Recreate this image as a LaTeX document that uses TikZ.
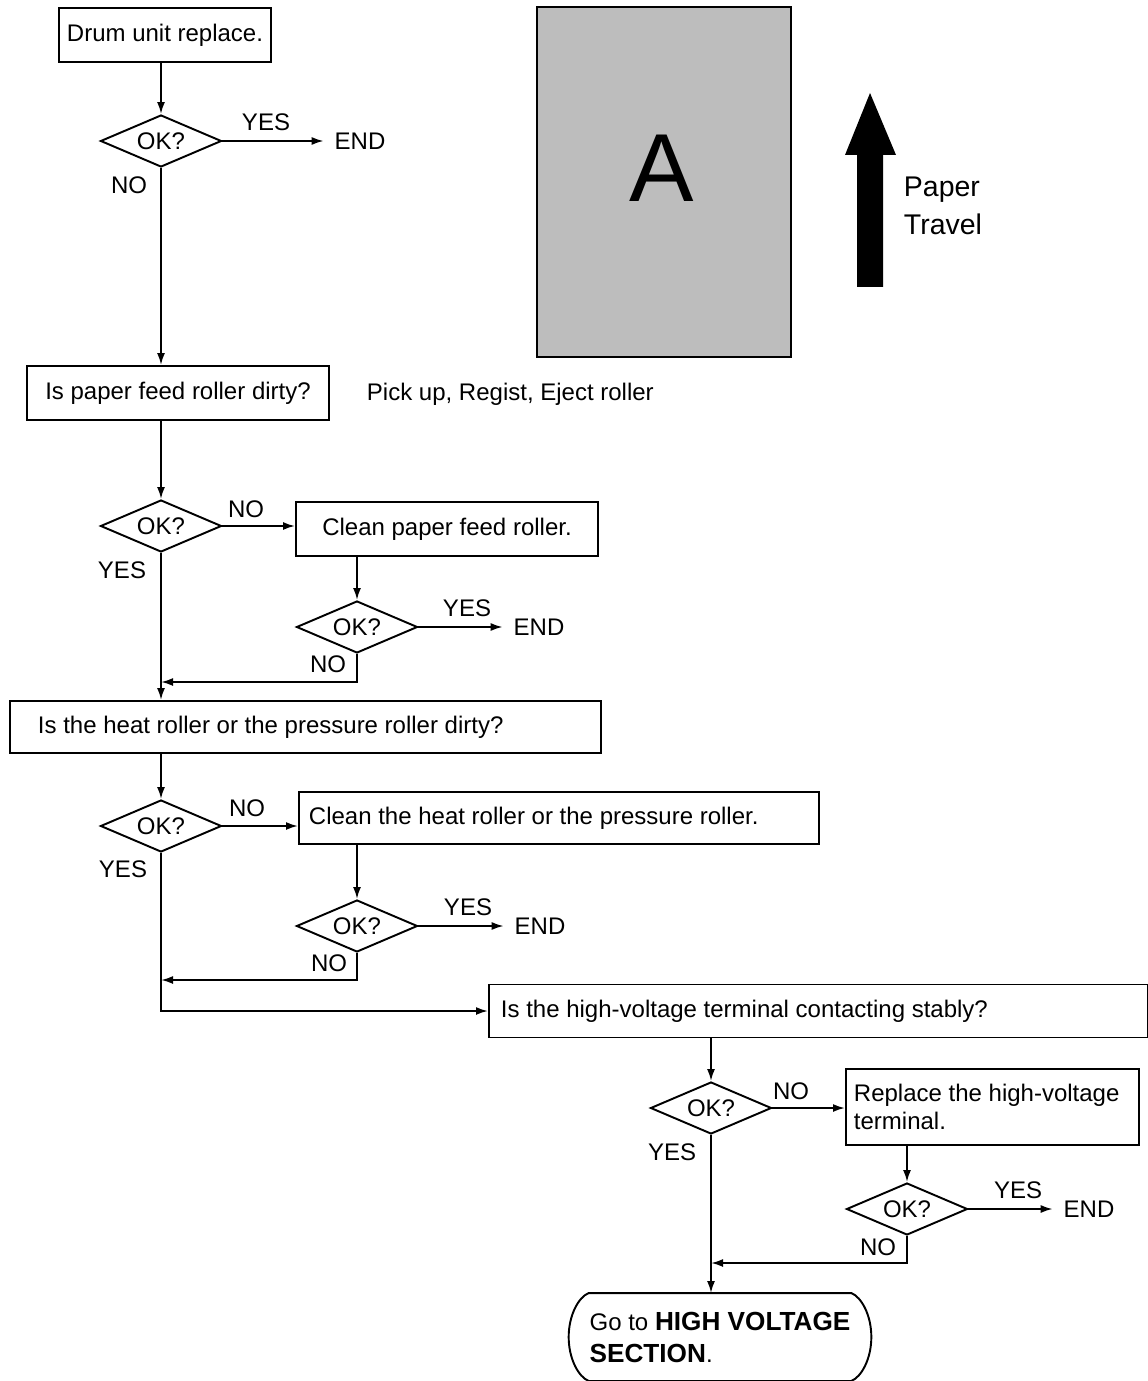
\documentclass[tikz,border=0pt]{standalone}
\usepackage{fontspec}
\setmainfont{Liberation Sans}
\usetikzlibrary{arrows.meta,shapes.geometric}

\begin{document}
\begin{tikzpicture}[x=0.02cm,y=-0.02cm,line width=1.1pt,
    every node/.style={font=\fontsize{13.66}{16}\selectfont},
    box/.style={draw,rectangle,minimum height=1.08cm,inner sep=0.16cm},
    lbox/.style={box,anchor=west,align=flush left},
    dec/.style={draw,diamond,aspect=2.3,minimum width=2.42cm,minimum height=1.04cm,inner sep=0pt},
    lbl/.style={inner sep=0pt},
    fin/.style={inner xsep=0.2cm,inner ysep=0pt},
    arr/.style={-{Latex[length=0.24cm,width=0.16cm]}}]

  \useasboundingbox (0,0) rectangle (1147,1381);

  % sheet and paper direction
  \node[draw,fill=black!26,minimum width=5.08cm,minimum height=7cm] (sheet) at (664,182) {};
  \node[inner sep=0pt,font=\fontsize{55}{60}\selectfont] (letA) at (662,168) {A};
  \fill (857,287) -- (857,155) -- (845,155) -- (870,93) -- (896,155) -- (883,155) -- (883,287) -- cycle;
  \node[anchor=west,align=flush left,inner sep=0pt,font=\fontsize{16.2}{21.6}\selectfont] (travel) at (903,206) {Paper\\Travel};

  % drum
  \node[box,minimum width=4.24cm] (b1) at (165,35) {Drum unit replace.};
  \node[dec] (d1) at (161,141) {OK?};
  \node[fin] (e1) at (360,141) {END};
  \node[lbl] (y1) at (266,122) {YES};
  \node[lbl] (n1) at (129,185) {NO};

  % paper feed roller
  \node[box,minimum width=6.04cm] (b2) at (178,393) {Is paper feed roller dirty?};
  \node[lbl,anchor=base west] (note) at (366,401) {Pick up, Regist, Eject roller};
  \node[dec] (d2) at (161,526) {OK?};
  \node[lbl] (n2) at (246,509) {NO};
  \node[lbl] (y2) at (122,570) {YES};
  \node[box,minimum width=6.04cm] (b3) at (447,529) {Clean paper feed roller.};
  \node[dec] (d3) at (357,627) {OK?};
  \node[lbl] (y3) at (467,608) {YES};
  \node[fin] (e3) at (539,627) {END};
  \node[lbl] (n3) at (328,664) {NO};
  \coordinate (j3) at (161,682);

  % heat / pressure roller
  \node[lbox,inner xsep=0.56cm,text width=10.7cm,minimum height=1.04cm] (b4) at (9,727) {Is the heat roller or the pressure roller dirty?};
  \node[dec] (d4) at (161,826) {OK?};
  \node[lbl] (n4) at (247,808) {NO};
  \node[lbl] (y4) at (123,869) {YES};
  \node[lbox,inner xsep=0.2cm,text width=10cm,minimum height=1.04cm] (b5) at (298,818) {Clean the heat roller or the pressure roller.};
  \node[dec] (d5) at (357,926) {OK?};
  \node[lbl] (y5) at (468,907) {YES};
  \node[fin] (e5) at (540,926) {END};
  \node[lbl] (n5) at (329,963) {NO};
  \coordinate (j5) at (161,980);

  % high-voltage terminal
  \node[lbox,inner xsep=0.24cm,text width=12.7cm,minimum height=1.06cm] (b6) at (488,1011) {Is the high-voltage terminal contacting stably?};
  \node[dec] (d6) at (711,1108) {OK?};
  \node[lbl] (n6) at (791,1091) {NO};
  \node[lbl] (y6) at (672,1152) {YES};
  \node[lbox,inner xsep=0.16cm,text width=5.54cm,minimum height=1.52cm,font=\fontsize{13.66}{15.9}\selectfont] (b7) at (845,1107) {Replace the high-voltage\\terminal.};
  \node[dec] (d7) at (907,1209) {OK?};
  \node[lbl] (y7) at (1018,1190) {YES};
  \node[fin] (e7) at (1089,1209) {END};
  \node[lbl] (n7) at (878,1247) {NO};
  \coordinate (j7) at (711,1263);

  \node[inner sep=0pt,minimum width=5.12cm,minimum height=1.72cm,align=flush left,font=\fontsize{13.66}{18.2}\selectfont] (stop) at (720,1337)
    {Go to {\fontsize{14.9}{18.2}\selectfont\bfseries HIGH VOLTAGE}\\{\fontsize{14.9}{18.2}\selectfont\bfseries SECTION}.};
  \draw (stop.north west) -- (stop.north east)
    .. controls +(10,4) and +(0,-22) .. ([xshift=0.4cm]stop.east)
    .. controls +(0,22) and +(10,-4) .. (stop.south east) -- (stop.south west)
    .. controls +(-10,-4) and +(0,22) .. ([xshift=-0.4cm]stop.west)
    .. controls +(0,-22) and +(-10,4) .. (stop.north west) -- cycle;

  % connectors
  \draw[arr] (d1 |- b1.south) -- (d1.north);
  \draw[arr] (d1.east) -- (e1.west);
  \draw[arr] (d1.south) -- (d1 |- b2.north);

  \draw[arr] (d2 |- b2.south) -- (d2.north);
  \draw[arr] (d2.east) -- (d2.east -| b3.west);
  \draw[arr] (d3 |- b3.south) -- (d3.north);
  \draw[arr] (d3.east) -- (e3.west);
  \draw[arr] (d3.south) |- (j3);
  \draw[arr] (d2.south) -- (d2 |- b4.north);

  \draw[arr] (d4 |- b4.south) -- (d4.north);
  \draw[arr] (d4.east) -- (d4.east -| b5.west);
  \draw[arr] (d5 |- b5.south) -- (d5.north);
  \draw[arr] (d5.east) -- (e5.west);
  \draw[arr] (d5.south) |- (j5);
  \draw[arr] (d4.south) |- (b6.west);

  \draw[arr] (d6 |- b6.south) -- (d6.north);
  \draw[arr] (d6.east) -- (d6.east -| b7.west);
  \draw[arr] (d7 |- b7.south) -- (d7.north);
  \draw[arr] (d7.east) -- (e7.west);
  \draw[arr] (d7.south) |- (j7);
  \draw[arr] (d6.south) -- (d6 |- stop.north);

\end{tikzpicture}
\end{document}
